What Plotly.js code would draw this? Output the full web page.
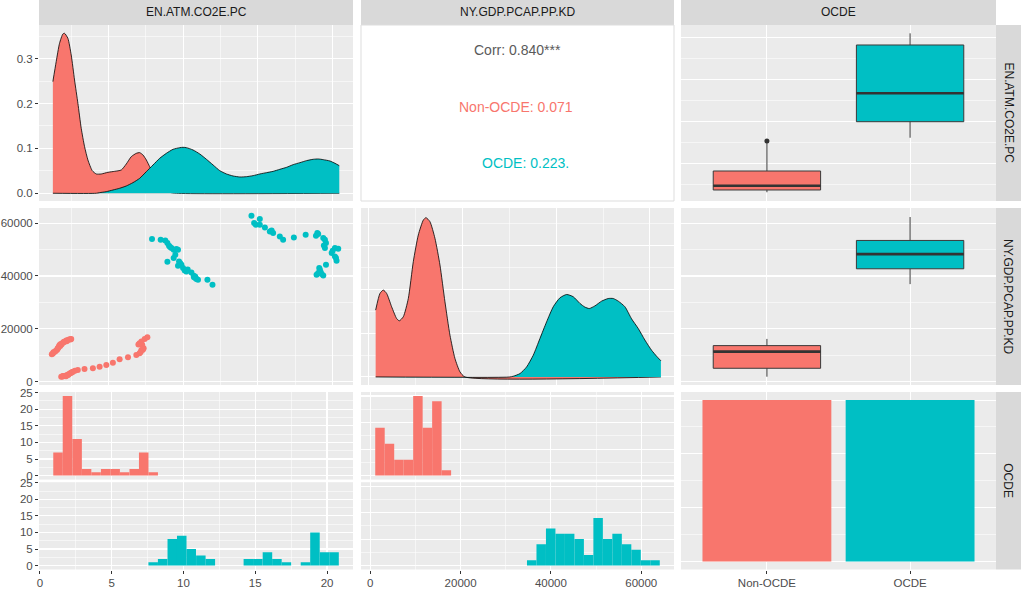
<!DOCTYPE html>
<html><head><meta charset="utf-8">
<script src="https://cdn.plot.ly/plotly-3.0.1.min.js"></script>
<style>html,body{margin:0;padding:0;background:#fff;}#chart{width:1027px;height:596px;}</style>
</head><body><div id="chart"></div>
<script>
// ---------------- data ----------------
const groups = ['Non-OCDE', 'OCDE'];
const varNames = ['EN.ATM.CO2E.PC', 'NY.GDP.PCAP.PP.KD', 'OCDE'];

// density of EN.ATM.CO2E.PC by group
const co2DensXNon = [1.270,1.493,1.717,1.941,2.052,2.276,2.500,2.723,2.947,3.170,3.394,3.617,3.908,4.176,4.512,4.959,5.406,5.853,6.188,6.524,6.859,7.083,7.306,7.530,7.753,7.977,8.312,8.647,9.095,9.542,20.452];
const co2DensNon  = [0.2486,0.2932,0.3340,0.3548,0.3563,0.3452,0.3080,0.2523,0.2004,0.1447,0.1039,0.0742,0.0504,0.0430,0.0430,0.0467,0.0489,0.0519,0.0653,0.0816,0.0890,0.0905,0.0853,0.0742,0.0593,0.0445,0.0259,0.0111,0.0022,0,0];
const co2DensXOcde = [1.270,4.176,4.400,4.847,5.294,5.741,6.188,6.635,7.083,7.530,7.977,8.424,8.871,9.318,9.765,9.989,10.213,10.659,11.107,11.554,12.001,12.448,12.895,13.342,13.790,14.237,14.684,15.131,15.578,16.025,16.472,16.920,17.366,17.814,18.261,18.708,19.043,19.378,19.826,20.161,20.452];
const co2DensOcde  = [0,0,0.0014,0.0036,0.0073,0.0111,0.0163,0.0237,0.0333,0.0482,0.0630,0.0779,0.0890,0.0979,0.1016,0.1024,0.1016,0.0964,0.0875,0.0757,0.0630,0.0504,0.0430,0.0385,0.0363,0.0370,0.0393,0.0430,0.0459,0.0489,0.0534,0.0578,0.0638,0.0682,0.0727,0.0757,0.0764,0.0749,0.0719,0.0668,0.0615];

// density of NY.GDP.PCAP.PP.KD by group (units of 1e-5)
const gdpDensXNon = [1466,2390,3101,3813,4880,5947,6516,7369,8436,9503,10570,11637,12206,13060,14127,15194,16261,17328,18395,19462,20529,62355];
const gdpDensNon  = [3.81,4.76,4.95,4.76,4.00,3.33,3.20,3.43,4.47,6.57,8.09,8.94,9.08,8.85,7.90,6.38,4.28,2.38,1.05,0.29,0,0];
const gdpDensXOcde = [1466,30130,30843,32266,33689,35111,36534,37957,39379,40802,42225,43647,45070,46137,47061,48271,49694,51116,52183,53250,54673,56096,57518,58941,60364,61431,62355];
const gdpDensOcde  = [0,0,0.04,0.19,0.57,1.24,2.19,3.14,4.00,4.51,4.70,4.57,4.19,3.98,3.90,4.05,4.32,4.47,4.47,4.32,4.00,3.31,2.76,2.10,1.52,1.18,0.92];

// scatter points
const co2Non = [1.20,1.27,1.31,1.40,1.45,1.54,1.58,1.60,1.65,1.67,1.72,1.76,1.80,1.85,1.90,1.99,2.07,2.17,2.27,2.39,2.50,2.45,2.20,2.00,
  1.83,1.90,1.98,2.05,2.12,2.20,2.27,2.35,2.43,2.50,2.55,2.61,2.75,2.94,3.39,3.95,4.40,4.85,5.29,5.74,6.30,6.86,7.08,7.20,7.35,7.26,7.08,7.20,7.42,7.60,7.00,7.30,1.95,2.30,2.15,7.15];
const gdpNon = [10330,10600,11090,11300,11580,11960,12300,12610,12900,13220,13860,13500,14240,14000,14510,14890,15120,15500,15760,16030,16140,15900,15300,15000,
  1820,1900,2000,2090,2200,2350,2470,2800,3110,3300,3500,3720,4050,4370,4750,5010,5620,6270,7140,8430,9190,10060,10710,11960,12610,13860,14510,15120,16140,16790,14000,12000,2050,2600,1950,11200];
const co2Ocde = [7.91,8.49,8.80,8.94,9.05,9.21,9.36,9.54,9.65,9.47,9.36,8.94,9.72,9.88,9.65,9.99,10.10,10.21,10.55,10.70,10.84,10.99,10.88,10.72,11.62,11.96,9.12,9.80,10.30,10.80,
  14.57,15.13,14.75,14.86,15.13,15.47,15.80,15.92,16.02,16.47,16.69,17.41,
  18.20,18.89,19.04,18.98,19.38,19.49,19.56,19.42,19.49,20.01,19.94,20.16,20.38,20.23,20.27,20.16,19.56,19.15,18.93,19.04,19.27,19.38,19.20,19.11];
const gdpOcde = [54010,53740,53480,52490,51460,50590,49940,50210,49940,48040,46790,45380,45500,44250,43870,42990,42080,41700,41320,40070,39190,38550,38820,39570,38550,36650,51000,44800,42500,39800,
  62860,61600,60080,59440,59440,58410,56890,57270,56280,54990,53740,54620,
  55640,55260,55900,56280,54380,53740,52490,51580,50590,49560,48690,50590,50320,46790,45760,47400,44250,42350,40450,41090,40710,40180,41470,42990];

// correlations
const corrTotal = '0.840', corrTotalStars = '***';
const corrGroups = ['0.071', '0.223'];
const corrGroupStars = ['', '.'];

// boxplot statistics (Non-OCDE, OCDE)
const co2Lower = [1.55, 8.04], co2Q1 = [1.82, 9.95], co2Median = [2.33, 13.33], co2Q3 = [4.08, 19.08], co2Upper = [7.45, 20.47];
const co2OutlierGroup = [1], co2Outliers = [7.65];
const gdpLower = [1820, 36920], gdpQ1 = [5010, 42730], gdpMedian = [11320, 48310], gdpQ3 = [13600, 53480], gdpUpper = [16140, 62360];

// histograms (bin centres and counts)
const co2BinsNon = [1.26,1.92,2.59,3.25,3.91,4.58,5.24,5.90,6.57,7.23,7.89];
const co2CountsNon = [7,24,11,2,1,2,2,1,2,7,1];
const co2BinsOcde = [7.89,8.55,9.22,9.88,10.54,11.21,11.87,14.52,15.18,15.85,16.51,17.17,18.50,19.16,19.83,20.49];
const co2CountsOcde = [1,2,8,9,5,3,2,2,2,4,2,1,1,10,4,4];
const gdpBinsNon = [2153,4253,6353,8453,10553,12653,14753,16853];
const gdpCountsNon = [9,6,3,3,15,9,14,1];
const gdpBinsOcde = [35753,37853,39953,42053,44153,46253,48353,50453,52553,54653,56753,58853,60953,63053];
const gdpCountsOcde = [1,4,7,6,6,5,2,9,5,6,4,3,1,1];

// bar counts per group
const groupCounts = [60, 60];

// ---------------- style ----------------
const COLS = ['#F8766D', '#00BFC4'];
const FONT = 'Liberation Sans, Arial, sans-serif';
const W = 1027, H = 596;
const px = v => v / W, py = v => 1 - v / H;
const C1 = [px(39), px(353)], C2 = [px(361), px(674)], C3 = [px(681), px(996)];
const R1 = [py(201), py(25)], R2 = [py(385), py(208)], R3 = [py(569.5), py(392)];
const R3a = [py(479.6), py(392)], R3b = [py(569.5), py(482.2)];
const co2BinW = 0.663, gdpBinW = 2100, boxW = 0.75, barW = 0.9;
const tickFont = {family: FONT, size: 11.5, color: '#4D4D4D'};

function axis(dom, range, anchor, dtick, minorDtick, showLabels, extra) {
  const a = {
    domain: dom, range: range, anchor: anchor, zeroline: false, showline: false,
    showgrid: true, gridcolor: '#FFFFFF', gridwidth: 1.1,
    dtick: dtick, tick0: 0,
    ticks: showLabels ? 'outside' : '', ticklen: 3, tickwidth: 1, tickcolor: '#333333',
    showticklabels: !!showLabels, tickfont: tickFont, fixedrange: true
  };
  if (minorDtick) a.minor = {dtick: minorDtick, tick0: 0, showgrid: true, gridcolor: '#FFFFFF', gridwidth: 0.55, ticks: ''};
  return Object.assign(a, extra || {});
}
function catAxis(dom, anchor, showLabels) {
  return axis(dom, [0.4, 2.6], anchor, null, null, showLabels,
    {tickmode: 'array', tickvals: groups.map((g, i) => i + 1), ticktext: groups});
}

const traces = [];
function dens(x, y, xa, ya, col) {
  traces.push({type: 'scatter', mode: 'lines', x: x, y: y, xaxis: xa, yaxis: ya,
    fill: 'tozeroy', fillcolor: col, line: {color: '#000000', width: 0.8, shape: 'spline', smoothing: 0.6},
    hoverinfo: 'skip'});
}
dens(co2DensXNon, co2DensNon, 'x', 'y', COLS[0]);
dens(co2DensXOcde, co2DensOcde, 'x', 'y', COLS[1]);
dens(gdpDensXNon, gdpDensNon, 'x4', 'y4', COLS[0]);
dens(gdpDensXOcde, gdpDensOcde, 'x4', 'y4', COLS[1]);

[[co2Non, gdpNon], [co2Ocde, gdpOcde]].forEach((d, i) => {
  traces.push({type: 'scatter', mode: 'markers', x: d[0], y: d[1], xaxis: 'x3', yaxis: 'y3',
    marker: {color: COLS[i], size: 6, line: {width: 0}}, hoverinfo: 'skip'});
});

function boxes(lo, q1, med, q3, hi, xa, ya) {
  groups.forEach((g, i) => {
    traces.push({type: 'box', x: [i + 1], lowerfence: [lo[i]], q1: [q1[i]], median: [med[i]], q3: [q3[i]], upperfence: [hi[i]],
      xaxis: xa, yaxis: ya, width: boxW, whiskerwidth: 0, boxpoints: false,
      fillcolor: COLS[i], line: {color: '#3A3A3A', width: 1}, hoverinfo: 'skip'});
    traces.push({type: 'scatter', mode: 'lines', x: [i + 1 - boxW / 2, i + 1 + boxW / 2], y: [med[i], med[i]],
      xaxis: xa, yaxis: ya, line: {color: '#333333', width: 2.6}, hoverinfo: 'skip'});
  });
}
boxes(co2Lower, co2Q1, co2Median, co2Q3, co2Upper, 'x2', 'y2');
traces.push({type: 'scatter', mode: 'markers', x: co2OutlierGroup, y: co2Outliers, xaxis: 'x2', yaxis: 'y2',
  marker: {color: '#333333', size: 5}, hoverinfo: 'skip'});
boxes(gdpLower, gdpQ1, gdpMedian, gdpQ3, gdpUpper, 'x5', 'y5');

function hist(x, y, w, xa, ya, col) {
  traces.push({type: 'bar', x: x, y: y, width: w, xaxis: xa, yaxis: ya,
    marker: {color: col, line: {width: 0}}, hoverinfo: 'skip'});
}
hist(co2BinsNon, co2CountsNon, co2BinW, 'x6', 'y6', COLS[0]);
hist(co2BinsOcde, co2CountsOcde, co2BinW, 'x7', 'y7', COLS[1]);
hist(gdpBinsNon, gdpCountsNon, gdpBinW, 'x8', 'y8', COLS[0]);
hist(gdpBinsOcde, gdpCountsOcde, gdpBinW, 'x9', 'y9', COLS[1]);

traces.push({type: 'bar', x: groups.map((g, i) => i + 1), y: groupCounts, width: barW, xaxis: 'x10', yaxis: 'y10',
  marker: {color: COLS, line: {width: 0}}, hoverinfo: 'skip'});

// ---------------- layout ----------------
const layout = {
  width: W, height: H, margin: {l: 0, r: 0, t: 0, b: 0},
  paper_bgcolor: '#FFFFFF', plot_bgcolor: '#EBEBEB', showlegend: false, barmode: 'overlay',
  font: {family: FONT, size: 11.5, color: '#4D4D4D'},
  xaxis:  axis(C1, [0.342, 21.37], 'y', 5, 2.5, false),
  yaxis:  axis(R1, [-0.0172, 0.3748], 'x', 0.1, 0.05, true, {tickformat: '.1f'}),
  xaxis2: catAxis(C3, 'y2', false),
  yaxis2: axis(R1, [0.51, 21.46], 'x2', 5, 2.5, false),
  xaxis3: axis(C1, [0.342, 21.37], 'y3', 5, 2.5, false),
  yaxis3: axis(R2, [-1330, 65780], 'x3', 20000, 10000, true, {tickformat: 'd'}),
  xaxis4: axis(C2, [-1660, 65150], 'y4', 20000, 10000, false),
  yaxis4: axis(R2, [-0.46, 9.63], 'x4', 2.5, 1.25, false),
  xaxis5: catAxis(C3, 'y5', false),
  yaxis5: axis(R2, [-1330, 65780], 'x5', 20000, 10000, false),
  xaxis6: axis(C1, [-0.065, 21.81], 'y6', 5, 2.5, false),
  yaxis6: axis(R3a, [-1.2, 25.2], 'x6', 5, 2.5, true),
  xaxis7: axis(C1, [-0.065, 21.81], 'y7', 5, 2.5, true),
  yaxis7: axis(R3b, [-1.2, 25.2], 'x7', 5, 2.5, true),
  xaxis8: axis(C2, [-2047, 67253], 'y8', 20000, 10000, false),
  yaxis8: axis(R3a, [-0.75, 15.75], 'x8', 5, 2.5, false),
  xaxis9: axis(C2, [-2047, 67253], 'y9', 20000, 10000, true, {tickformat: 'd'}),
  yaxis9: axis(R3b, [-0.75, 15.75], 'x9', 5, 2.5, false),
  xaxis10: catAxis(C3, 'y10', true),
  yaxis10: axis(R3, [-3, 63], 'x10', 20, 10, false),
  shapes: [], annotations: []
};

// strips
const colDoms = [C1, C2, C3], rowDoms = [R1, R2, R3];
colDoms.forEach((d, i) => {
  layout.shapes.push({type: 'rect', xref: 'paper', yref: 'paper', x0: d[0], x1: d[1], y0: py(25), y1: 1,
    fillcolor: '#D9D9D9', line: {width: 0}, layer: 'below'});
  layout.annotations.push({xref: 'paper', yref: 'paper', x: (d[0] + d[1]) / 2, y: py(12.5), text: varNames[i],
    showarrow: false, font: {family: FONT, size: 12, color: '#1A1A1A'}, xanchor: 'center', yanchor: 'middle'});
});
rowDoms.forEach((d, i) => {
  layout.shapes.push({type: 'rect', xref: 'paper', yref: 'paper', x0: px(996), x1: px(1021), y0: d[0], y1: d[1],
    fillcolor: '#D9D9D9', line: {width: 0}, layer: 'below'});
  layout.annotations.push({xref: 'paper', yref: 'paper', x: px(1008.5), y: (d[0] + d[1]) / 2, text: varNames[i],
    textangle: 90, showarrow: false, font: {family: FONT, size: 12, color: '#1A1A1A'}, xanchor: 'center', yanchor: 'middle'});
});

// correlation panel
layout.shapes.push({type: 'rect', xref: 'paper', yref: 'paper', x0: C2[0], x1: C2[1], y0: R1[0], y1: R1[1],
  fillcolor: '#FFFFFF', line: {color: '#DDDDDD', width: 1}, layer: 'below'});
const corrLines = [
  {text: 'Corr: ' + corrTotal + corrTotalStars, color: '#5A5A5A', x: 517.7, y: 50},
  {text: groups[0] + ': ' + corrGroups[0] + corrGroupStars[0], color: COLS[0], x: 515.7, y: 107.3},
  {text: groups[1] + ': ' + corrGroups[1] + corrGroupStars[1], color: COLS[1], x: 525, y: 163.3}
];
corrLines.forEach(c => layout.annotations.push({xref: 'paper', yref: 'paper', x: px(c.x), y: py(c.y), text: c.text,
  showarrow: false, font: {family: FONT, size: 14, color: c.color}, xanchor: 'center', yanchor: 'middle'}));

Plotly.newPlot('chart', traces, layout, {staticPlot: true, displayModeBar: false});
</script></body></html>
